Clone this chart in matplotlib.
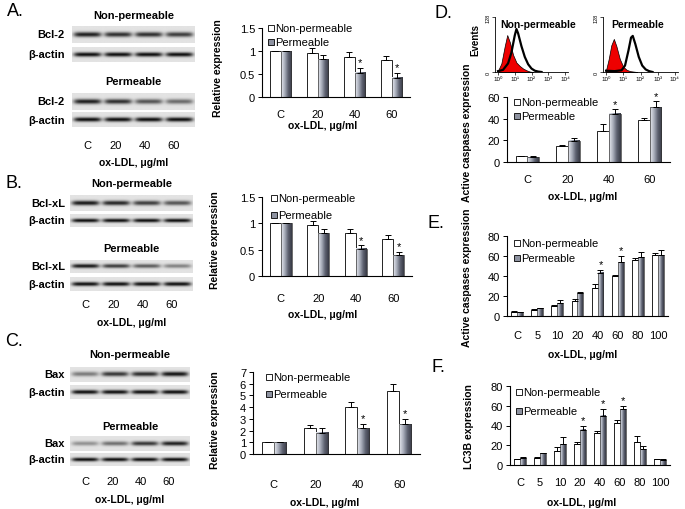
import numpy as np
import matplotlib
matplotlib.use("Agg")
import matplotlib.pyplot as plt
from matplotlib.colors import LinearSegmentedColormap
from matplotlib.patches import Rectangle

plt.rcParams['font.family'] = ['Liberation Sans', 'DejaVu Sans']

# ---- data ----
doses4 = ['C', '20', '40', '60']
doses8 = ['C', '5', '10', '20', '40', '60', '80', '100']

bcl2_non = [1.0, 0.96, 0.87, 0.81]
bcl2_non_err = [0, 0.10, 0.10, 0.09]
bcl2_perm = [1.0, 0.82, 0.53, 0.42]
bcl2_perm_err = [0, 0.10, 0.10, 0.10]

bclxl_non = [1.0, 0.97, 0.81, 0.70]
bclxl_non_err = [0, 0.08, 0.08, 0.08]
bclxl_perm = [1.0, 0.81, 0.52, 0.39]
bclxl_perm_err = [0, 0.08, 0.06, 0.06]

bax_non = [1.0, 2.25, 4.0, 5.35]
bax_non_err = [0, 0.25, 0.45, 0.6]
bax_perm = [1.0, 1.8, 2.2, 2.55]
bax_perm_err = [0, 0.4, 0.35, 0.45]

casp4_non = [5.5, 14.5, 28.5, 39]
casp4_non_err = [0.5, 1.5, 6.5, 2]
casp4_perm = [4.5, 19.5, 44.5, 50.5]
casp4_perm_err = [1.5, 3, 4, 5.5]

casp8_non = [4.3, 6.3, 9.7, 15.5, 28, 40, 56.5, 61]
casp8_non_err = [0.5, 0.5, 1, 2, 4, 1.5, 2, 2.5]
casp8_perm = [4.0, 8.0, 13, 23, 43.5, 54, 59, 61]
casp8_perm_err = [0.5, 0.5, 3, 1.5, 3, 6, 5, 5]

lc3b_non = [6, 7.3, 14, 21.3, 32.5, 42.5, 23.6, 6]
lc3b_non_err = [0.5, 0.5, 4, 2, 2, 3, 5.5, 0.5]
lc3b_perm = [7.3, 11.8, 21, 35.7, 50, 56.7, 16.2, 5.4]
lc3b_perm_err = [1, 0.5, 7, 4, 6.5, 3.5, 3.5, 1]

# blot band intensities (0..1), one per lane
bcl2_band_non = [0.85, 0.78, 0.78, 0.72]
bcl2_band_perm = [0.85, 0.78, 0.62, 0.52]
bclxl_band_non = [0.88, 0.82, 0.72, 0.62]
bclxl_band_perm = [0.88, 0.72, 0.58, 0.42]
bax_band_non = [0.45, 0.75, 0.8, 0.9]
bax_band_perm = [0.35, 0.5, 0.75, 0.85]
actin_band = [0.92, 0.92, 0.92, 0.92]

# flow histograms (log10 fluorescence, events)
h1_red_x = [0, 0.2, 0.4, 0.55, 0.7, 0.9, 1.1, 1.3, 1.5, 1.7, 1.9, 2.1]
h1_red_y = [3, 20, 60, 86, 70, 40, 22, 14, 8, 4, 1, 0]
h1_blk_x = [0, 0.3, 0.6, 0.8, 1.0, 1.1, 1.2, 1.4, 1.6, 1.8, 2.0, 2.2, 2.4, 2.6]
h1_blk_y = [2, 5, 20, 45, 85, 100, 90, 60, 35, 18, 8, 3, 1, 0]
h2_red_x = [0, 0.15, 0.3, 0.45, 0.6, 0.8, 1.0, 1.2, 1.4, 1.6, 1.8]
h2_red_y = [5, 30, 62, 77, 60, 30, 12, 5, 2, 1, 0]
h2_blk_x = [0, 0.5, 0.9, 1.1, 1.3, 1.45, 1.55, 1.7, 1.9, 2.1, 2.3, 2.5, 2.7]
h2_blk_y = [3, 2, 4, 15, 50, 80, 84, 65, 35, 15, 6, 2, 0]

W, H = 685, 510
fig = plt.figure(figsize=(W / 100, H / 100), dpi=100)

grad = LinearSegmentedColormap.from_list('g', ['#e8eaf0', '#a9aebb', '#5d6170', '#383a45'])
perm_color = '#8d92a0'


def box(l, t, r, b):
    return [l / W, 1 - b / H, (r - l) / W, (b - t) / H]


def ftext(x, y, s, **kw):
    kw.setdefault('ha', 'center')
    kw.setdefault('va', 'center')
    fig.text(x / W, 1 - y / H, s, **kw)


def blot(l, t, r, b, levels):
    ax = fig.add_axes(box(l, t, r, b))
    yy = np.linspace(-1, 1, 40)[:, None]
    xx = np.linspace(0, len(levels), 240)[None, :]
    img = np.full((40, 240), 0.89)
    for i, lev in enumerate(levels):
        lane = np.exp(-((xx - (i + 0.5)) / 0.45) ** 6)
        band = np.exp(-(yy / 0.3) ** 2)
        img = img - 0.9 * lev * lane * band
    ax.imshow(img, cmap='gray', vmin=0, vmax=1, aspect='auto', extent=[0, len(levels), 0, 1])
    ax.set_axis_off()


def blot_panel(x0, x1, title_y, rows, ticks_y, xlab_y, title2_y):
    # rows: list of (label, top, bottom, levels)
    cx = (x0 + x1) / 2
    ftext(cx, title_y, 'Non-permeable', fontsize=8, fontweight='bold')
    ftext(cx, title2_y, 'Permeable', fontsize=8, fontweight='bold')
    for lab, t, b, lev in rows:
        blot(x0, t, x1, b, lev)
        ftext(65, (t + b) / 2, lab, ha='right', fontsize=8, fontweight='bold')
    lw = (x1 - x0) / 4
    for i, d in enumerate(doses4):
        ftext(x0 + (i + 0.5) * lw - 2 * i, ticks_y, d, fontsize=8)
    ftext(cx, xlab_y, 'ox-LDL, μg/ml', fontsize=7.5, fontweight='bold')


def bars(rect, cats, non, non_err, perm, perm_err, stars, yticks, ylabs, pad, legend):
    ax = fig.add_axes(box(*rect))
    n = len(cats)
    x = np.arange(n)
    w = 0.29
    ax.bar(x - w / 2, non, w, color='white', edgecolor='black', linewidth=0.6, zorder=2)
    ax.errorbar(x - w / 2, non, yerr=[[0] * n, non_err], fmt='none', ecolor='black',
                elinewidth=0.7, capsize=2, capthick=0.7, zorder=3)
    g = np.linspace(0, 1, 32)[None, :]
    for xi, v in zip(x, perm):
        ax.imshow(g, cmap=grad, extent=[xi, xi + w, 0, v], aspect='auto', zorder=2)
        ax.add_patch(Rectangle((xi, 0), w, v, fill=False, edgecolor='#333333', linewidth=0.5, zorder=2))
    ax.errorbar(x + w / 2, perm, yerr=[[0] * n, perm_err], fmt='none', ecolor='black',
                elinewidth=0.7, capsize=2, capthick=0.7, zorder=3)
    top = yticks[-1]
    for i in stars:
        ax.text(x[i] + w / 2, perm[i] + perm_err[i] + top * 0.01, '*', ha='center', va='bottom', fontsize=8)
    ax.set_xlim(-0.5, n - 0.5)
    ax.set_ylim(0, top)
    ax.set_yticks(yticks)
    ax.set_yticklabels(ylabs)
    ax.set_xticks(x)
    ax.set_xticklabels(cats)
    ax.tick_params(axis='x', length=0, pad=pad, labelsize=8)
    ax.tick_params(axis='y', length=3, width=0.7, pad=2, labelsize=8)
    for s in ['top', 'right']:
        ax.spines[s].set_visible(False)
    for s in ['left', 'bottom']:
        ax.spines[s].set_linewidth(0.8)
    # legend drawn as small squares + text
    lx, y1, y2 = legend
    for yy, lab, fc in [(y1, 'Non-permeable', 'white'), (y2, 'Permeable', perm_color)]:
        fig.patches.append(Rectangle(((lx) / W, 1 - (yy + 3) / H), 6 / W, 6 / H, transform=fig.transFigure,
                                     facecolor=fc, edgecolor='black', linewidth=0.6))
        ftext(lx + 7, yy, lab, ha='left', fontsize=8)
    return ax


# ---------------- panel labels ----------------
for lab, x, y in [('A.', 15, 12), ('B.', 14, 183), ('C.', 14, 342), ('D.', 443, 14), ('E.', 436, 223), ('F.', 438, 367)]:
    ftext(x, y, lab, fontsize=13)

# ---------------- A ----------------
blot_panel(72, 195, 16,
           [('Bcl-2', 27, 44, bcl2_band_non), ('β-actin', 48, 63, actin_band),
            ('Bcl-2', 94, 111, bcl2_band_perm), ('β-actin', 113, 128, actin_band)],
           146, 163, 82)
bars((262, 29, 410, 98), doses4, bcl2_non, bcl2_non_err, bcl2_perm, bcl2_perm_err, [2, 3],
     [0, 0.5, 1, 1.5], ['0', '0.5', '1', '1.5'], 9, (268, 29, 43))
ftext(218, 68, 'Relative expression', rotation=90, fontsize=7.5, fontweight='bold')
ftext(323, 126, 'ox-LDL, μg/ml', fontsize=7.5, fontweight='bold')

# ---------------- B ----------------
blot_panel(70, 193, 184,
           [('Bcl-xL', 196, 212, bclxl_band_non), ('β-actin', 215, 228, actin_band),
            ('Bcl-xL', 261, 274, bclxl_band_perm), ('β-actin', 278, 292, actin_band)],
           305, 323, 249)
bars((262, 198, 412, 277), doses4, bclxl_non, bclxl_non_err, bclxl_perm, bclxl_perm_err, [2, 3],
     [0, 0.5, 1, 1.5], ['0', '0.5', '1', '1.5'], 12, (271, 199, 216))
ftext(215, 240, 'Relative expression', rotation=90, fontsize=7.5, fontweight='bold')
ftext(323, 315, 'ox-LDL, μg/ml', fontsize=7.5, fontweight='bold')

# ---------------- C ----------------
blot_panel(70, 190, 355,
           [('Bax', 368, 383, bax_band_non), ('β-actin', 386, 400, actin_band),
            ('Bax', 437, 452, bax_band_perm), ('β-actin', 454, 467, actin_band)],
           482, 500, 427)
bars((253, 373, 420, 455), doses4, bax_non, bax_non_err, bax_perm, bax_perm_err, [2, 3],
     list(range(8)), [str(i) for i in range(8)], 18, (266, 378, 395))
ftext(215, 420, 'Relative expression', rotation=90, fontsize=7.5, fontweight='bold')
ftext(325, 503, 'ox-LDL, μg/ml', fontsize=7.5, fontweight='bold')


# ---------------- D histograms ----------------
def hist(rect, title, rx, ry, bx, by, tx):
    ax = fig.add_axes(box(*rect))
    ax.fill_between(rx, ry, color='#ee0000', edgecolor='black', linewidth=0.5)
    ax.plot(bx, by, color='black', linewidth=1.6)
    ax.set_xlim(-0.18, 4.18)
    ax.set_ylim(0, 128)
    ax.set_xticks(range(5))
    ax.set_xticklabels(['10⁰', '10¹', '10²', '10³', '10⁴'], fontsize=4.5)
    ax.set_yticks([0, 128])
    ax.set_yticklabels(['0', '128'], fontsize=4, rotation=90, va='center')
    ax.tick_params(length=2, width=0.5, pad=1)
    for s in ['top', 'right']:
        ax.spines[s].set_visible(False)
    for s in ['left', 'bottom']:
        ax.spines[s].set_linewidth(0.6)
    ftext(tx, 25, title, fontsize=7.5, fontweight='bold')


hist((495, 18, 568, 73), 'Non-permeable', h1_red_x, h1_red_y, h1_blk_x, h1_blk_y, 538)
hist((603, 18, 678, 73), 'Permeable', h2_red_x, h2_red_y, h2_blk_x, h2_blk_y, 638)
ftext(475, 40, 'Events', rotation=90, fontsize=7, fontweight='bold')

# ---------------- D bars ----------------
bars((507, 98, 670, 163), doses4, casp4_non, casp4_non_err, casp4_perm, casp4_perm_err, [2, 3],
     [0, 20, 40, 60], ['0', '20', '40', '60'], 9, (514, 103, 117))
ftext(467, 133, 'Active caspases expression', rotation=90, fontsize=7.5, fontweight='bold')
ftext(583, 197, 'ox-LDL, μg/ml', fontsize=7.5, fontweight='bold')

# ---------------- E ----------------
bars((507, 237, 668, 317), doses8, casp8_non, casp8_non_err, casp8_perm, casp8_perm_err, [4, 5],
     [0, 20, 40, 60, 80], ['0', '20', '40', '60', '80'], 10, (514, 244, 259))
ftext(467, 278, 'Active caspases expression', rotation=90, fontsize=7.5, fontweight='bold')
ftext(583, 355, 'ox-LDL, μg/ml', fontsize=7.5, fontweight='bold')

# ---------------- F ----------------
bars((510, 387, 670, 466), doses8, lc3b_non, lc3b_non_err, lc3b_perm, lc3b_perm_err, [3, 4, 5],
     [0, 20, 40, 60, 80], ['0', '20', '40', '60', '80'], 9, (516, 393, 412))
ftext(469, 427, 'LC3B expression', rotation=90, fontsize=7.5, fontweight='bold')
ftext(582, 503, 'ox-LDL, μg/ml', fontsize=7.5, fontweight='bold')

fig.savefig('out.png', dpi=100)
